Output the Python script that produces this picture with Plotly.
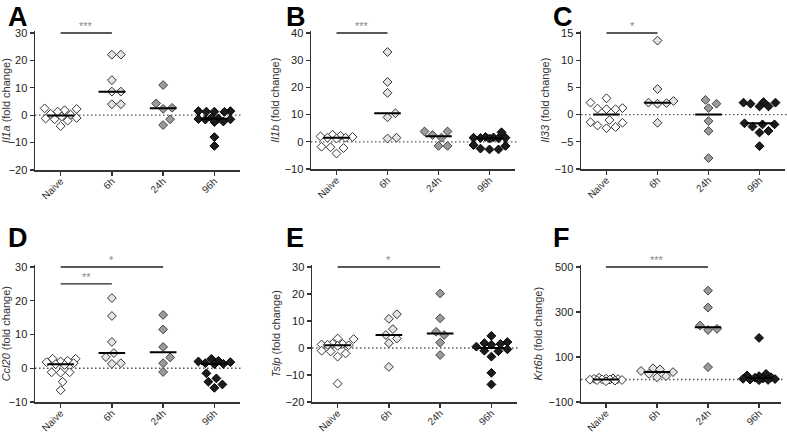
import numpy as np
import plotly.graph_objects as go

W, H = 787, 435
groups = ["Naive", "6h", "24h", "96h"]

# ---- data (fold change) ----
il1a_naive = [2.5, 2.3, 1.8, 1.3, 0.5, 0.2, -0.5, -1.0, -1.2, -1.5, -2.0, -4.0]
il1a_6h = [22.1, 22.1, 12.8, 8.6, 8.6, 4.0, 4.0]
il1a_24h = [11.0, 4.3, 2.7, 2.3, -1.5, -3.6]
il1a_96h = [1.5, 1.5, 1.3, 1.3, 1.2, -1.0, -1.2, -1.4, -1.5, -1.6, -2.3, -2.5, -8.0, -11.2]

il1b_naive = [2.6, 2.2, 2.0, 1.8, 1.5, 1.5, 1.2, -1.8, -2.0, -2.3, -4.3]
il1b_6h = [33.0, 22.0, 18.0, 10.5, 9.0, 1.2, 1.5]
il1b_24h = [3.8, 3.8, 2.5, 1.5, -1.5, -1.5]
il1b_96h = [3.5, 1.8, 1.6, 1.5, 1.5, 1.4, 1.3, 1.2, -1.2, -1.5, -2.5, -2.8, -2.8]

il33_naive = [3.0, 2.2, 1.2, 1.1, 1.0, 1.0, -1.0, -1.4, -1.5, -2.0, -2.3, -2.5]
il33_6h = [13.6, 4.7, 2.5, 2.2, 2.1, 2.0, -1.5]
il33_24h = [2.7, 2.0, 1.2, -1.2, -3.0, -8.0]
il33_96h = [2.3, 2.2, 2.2, 2.0, 1.5, 1.5, -1.6, -1.8, -1.8, -2.2, -3.0, -3.3, -5.8]

ccl20_naive = [2.8, 2.8, 2.2, 2.0, 1.8, 1.5, 1.2, 1.0, -1.2, -1.2, -1.3, -4.0, -6.5]
ccl20_6h = [20.8, 15.5, 7.8, 4.5, 3.3, 1.5, 1.3]
ccl20_24h = [15.8, 11.5, 6.3, 3.2, 1.5, -1.1]
ccl20_96h = [2.8, 2.2, 2.0, 1.8, 1.5, 1.3, 1.2, -1.5, -3.0, -4.0, -4.8, -5.8]

tslp_naive = [3.5, 3.3, 1.6, 1.5, 1.3, 1.2, 1.0, 0.8, -1.0, -1.3, -2.0, -3.2, -13.2]
tslp_6h = [12.5, 10.8, 7.0, 4.8, 3.5, 1.8, -7.0]
tslp_24h = [20.2, 11.0, 6.0, 4.8, 2.0, -2.6]
tslp_96h = [4.5, 2.2, 1.8, 1.5, 1.2, 0.5, -0.5, -1.0, -1.2, -3.2, -9.2, -13.5]

krt6b_naive = [8, 5, 4, 3, 2, 1, 0, -1, -2, -3, -5, -8]
krt6b_6h = [50, 45, 38, 33, 25, 15, 10]
krt6b_24h = [395, 320, 240, 225, 220, 55]
krt6b_96h = [185, 25, 18, 15, 10, 8, 5, 3, 2, 0, -2, -3]

panels = [
    dict(letter="A", gene="Il1a", data=[il1a_naive, il1a_6h, il1a_24h, il1a_96h],
         box=(35, 240, 33, 170), yr=(-20, 30), ticks=[-20, -10, 0, 10, 20, 30],
         xr=(-0.5, 3.5), sig=[(0, 1, 30, "***")], lpos=(6, 0)),
    dict(letter="B", gene="Il1b", data=[il1b_naive, il1b_6h, il1b_24h, il1b_96h],
         box=(311, 515, 33, 169), yr=(-10, 40), ticks=[-10, 0, 10, 20, 30, 40],
         xr=(-0.5, 3.5), sig=[(0, 1, 40, "***")], lpos=(284, 0)),
    dict(letter="C", gene="Il33", data=[il33_naive, il33_6h, il33_24h, il33_96h],
         box=(581, 785, 33, 169), yr=(-10, 15), ticks=[-10, -5, 0, 5, 10, 15],
         xr=(-0.5, 3.5), sig=[(0, 1, 15, "*")], lpos=(551, 0)),
    dict(letter="D", gene="Ccl20", data=[ccl20_naive, ccl20_6h, ccl20_24h, ccl20_96h],
         box=(35, 240, 267, 402), yr=(-10, 30), ticks=[-10, 0, 10, 20, 30],
         xr=(-0.5, 3.5), sig=[(0, 2, 30, "*"), (0, 1, 25, "**")], lpos=(6, 221)),
    dict(letter="E", gene="Tslp", data=[tslp_naive, tslp_6h, tslp_24h, tslp_96h],
         box=(312, 517, 267, 402), yr=(-20, 30), ticks=[-20, -10, 0, 10, 20, 30],
         xr=(-0.5, 3.5), sig=[(0, 2, 30, "*")], lpos=(284, 221)),
    dict(letter="F", gene="Krt6b", data=[krt6b_naive, krt6b_6h, krt6b_24h, krt6b_96h],
         box=(581, 781, 267, 402), yr=(-100, 500), ticks=[-100, 100, 300, 500],
         xr=(-0.49, 3.43), sig=[(0, 2, 500, "***")], lpos=(551, 221)),
]

fills = ["#ffffff", "#e4e4e4", "#9a9a9a", "#1c1c1c"]
edges = ["#333333", "#333333", "#444444", "#000000"]
MS = 6.8
AX = "#333333"
FONT = "Arial, Liberation Sans, sans-serif"


def swarm(values, ppu, ppc, size=8.5, maxw=16):
    placed = []
    offs = [0.0] * len(values)
    order = sorted(range(len(values)), key=lambda i: values[i])
    cands = [0.0]
    for k in range(1, maxw + 1):
        cands += [float(k), float(-k)]
    for i in order:
        y = values[i] * ppu
        best, bestd = 0.0, -1
        for c in cands:
            d = min([np.hypot(c - px, y - py) for px, py in placed] or [1e9])
            if d >= size:
                best = c
                break
            if d > bestd + 0.5:
                best, bestd = c, d
        placed.append((best, y))
        offs[i] = best / ppc
    return offs


fig = go.Figure()
shapes, annos = [], []
layout = {}
for n, p in enumerate(panels, start=1):
    xs = "" if n == 1 else str(n)
    xa, ya = "x" + xs, "y" + xs
    l, r, t, b = p["box"]
    y0, y1 = p["yr"]
    pad = (y1 - y0) * 0.012
    ppu = (b - t) / (y1 - y0)
    ppc = (r - l) / (p["xr"][1] - p["xr"][0])
    top_px = t - pad * ppu
    for g, vals in enumerate(p["data"]):
        off = swarm(vals, ppu, ppc)
        fig.add_trace(go.Scatter(
            x=[g + o for o in off], y=vals, mode="markers", xaxis=xa, yaxis=ya,
            marker=dict(symbol="diamond", size=MS, color=fills[g],
                        line=dict(color=edges[g], width=1)),
            showlegend=False, cliponaxis=False, hoverinfo="skip"))
        med = float(np.median(vals))
        shapes.append(dict(type="line", xref=xa, yref=ya, x0=g - 0.26, x1=g + 0.26,
                           y0=med, y1=med, line=dict(color="black", width=2)))
    shapes.insert(0, dict(type="line", xref=xa + " domain", yref=ya, x0=0, x1=1.01, y0=0, y1=0,
                          line=dict(color="#555555", width=1.3, dash="1.5px,2.5px"), layer="below"))
    for (a, c, yv, txt) in p["sig"]:
        shapes.append(dict(type="line", xref=xa, yref=ya, x0=a, x1=c, y0=yv, y1=yv,
                           line=dict(color="#222222", width=1.3)))
        annos.append(dict(x=(a + c) / 2, y=yv, xref=xa, yref=ya, text=txt, showarrow=False,
                          yanchor="bottom", yshift=-1, font=dict(size=11, color="#8a8a8a", family=FONT)))
    lx, ly = p["lpos"]
    annos.append(dict(x=lx / W, y=1 - ly / H, xref="paper", yref="paper",
                      text="<b>%s</b>" % p["letter"], showarrow=False, xanchor="left", yanchor="top",
                      font=dict(size=27, color="black", family=FONT)))
    layout["xaxis" + xs] = dict(
        domain=[l / W, r / W], anchor=ya, range=list(p["xr"]), tickvals=[0, 1, 2, 3],
        ticktext=groups, tickangle=-45, showline=True, linecolor=AX, linewidth=1.5,
        ticks="outside", ticklen=4, tickwidth=1.3, tickcolor=AX, showgrid=False, zeroline=False,
        ticklabelstandoff=-4,
        automargin=False, tickfont=dict(size=10, color="#333333", family=FONT), fixedrange=True)
    layout["yaxis" + xs] = dict(
        domain=[1 - b / H, 1 - top_px / H], anchor=xa, range=[y0, y1 + pad], tickvals=p["ticks"],
        showline=True, linecolor=AX, linewidth=1.5, ticks="outside", ticklen=4, tickwidth=1.3,
        tickcolor=AX, showgrid=False, zeroline=False, fixedrange=True, automargin=False,
        tickfont=dict(size=11, color="#222222", family=FONT),
        title=dict(text="<i>%s</i> (fold change)" % p["gene"], standoff=3,
                   font=dict(size=11, color="#333333", family=FONT)))

fig.update_layout(width=W, height=H, margin=dict(l=0, r=0, t=0, b=0, autoexpand=False), autosize=False,
                  paper_bgcolor="white", plot_bgcolor="white", shapes=shapes, annotations=annos,
                  font=dict(family=FONT), **layout)
fig.write_html("out.html", config={"displayModeBar": False, "staticPlot": True},
               post_script="document.body.style.margin='0';document.body.style.overflow='hidden';")
